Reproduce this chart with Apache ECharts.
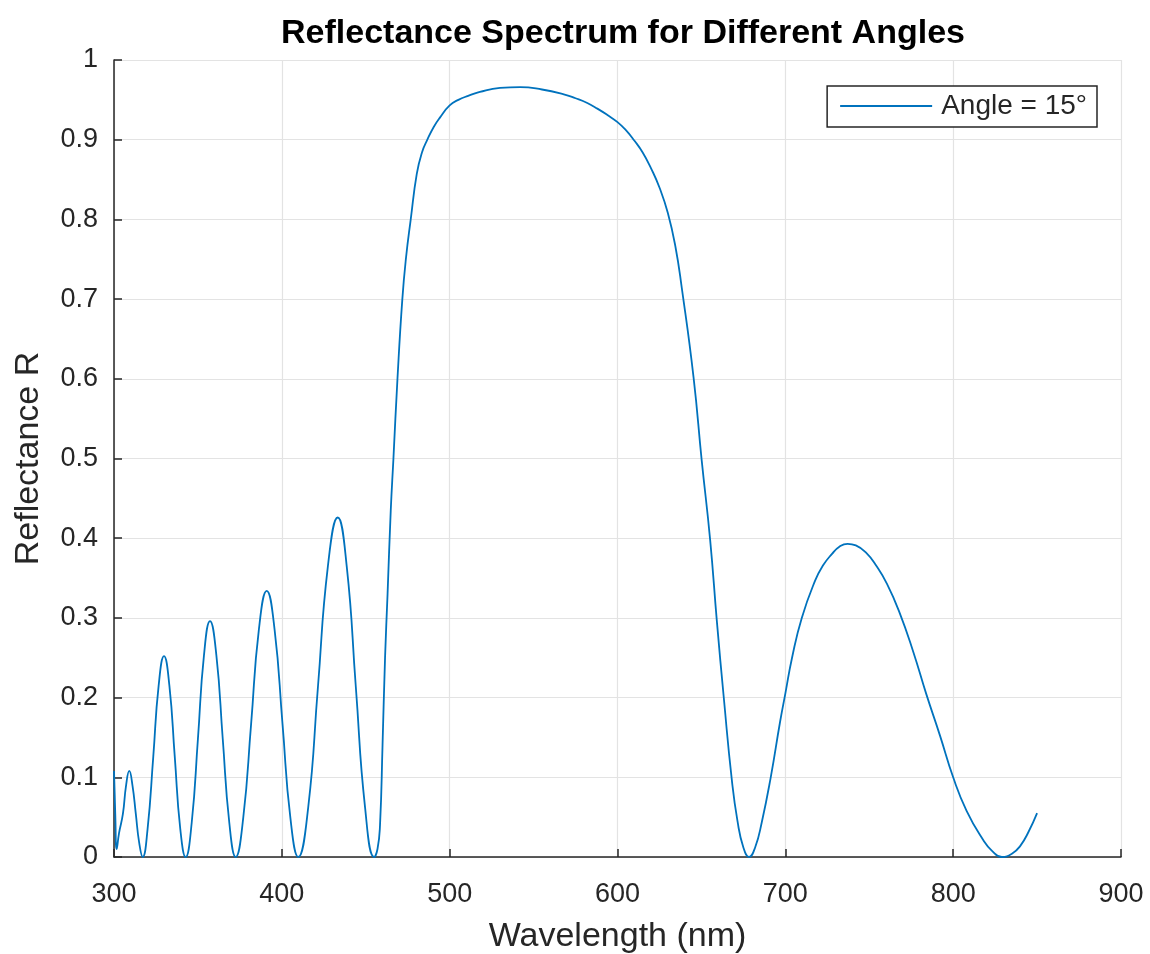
<!DOCTYPE html>
<html>
<head>
<meta charset="utf-8">
<title>Reflectance Spectrum for Different Angles</title>
<script src="https://cdn.jsdelivr.net/npm/echarts@6/dist/echarts.min.js"></script>
<style>
  html, body { margin: 0; padding: 0; background: #ffffff; }
  #chart { width: 1150px; height: 954px; }
</style>
</head>
<body>
<div id="chart"></div>
<script>
// Wavelength samples (nm)
const wavelength = [
  300, 300.8, 301.6, 303, 305.3, 307.2, 309.1, 311, 313, 315, 317.1,
  320, 323.4, 326.6, 329.8, 333, 336.2, 339.5, 342.7,
  346.3, 350, 353.6, 357.2, 361, 364.8, 368.7, 372.5,
  377, 381.7, 386.3, 391, 395.7, 400.4, 405.1, 409.8,
  415.7, 421.5, 427.4, 433.3, 438.7, 444.1, 449.6, 455,
  457, 458.5, 460, 461.5, 463, 464.9, 466.5, 468.9, 471.8, 474, 476.8, 480.4,
  483.5, 486.7, 490.5, 494.3, 500, 505.2, 511, 518, 530, 542, 555, 568, 575, 582, 588, 594, 600,
  605, 610, 615, 620, 625, 630, 634.5, 638.3, 645.3, 650.2, 655.2, 659.2, 663.5,
  668.1, 671.5, 675, 678.4,
  682, 686, 691.3, 696.9, 700, 704, 709.8, 717.8, 722.5, 727.7, 732, 737.1, 742, 748.5, 754,
  760.5, 768, 776.3, 783.9, 792.2, 800, 808, 818, 823, 829, 835, 840, 845, 850
];

// Reflectance at 15° incidence
const reflectance15 = [
  0.108, 0.05, 0.01, 0.03, 0.054, 0.09, 0.108, 0.09, 0.054, 0.018, 0,
  0.035, 0.126, 0.215, 0.252, 0.215, 0.126, 0.035, 0,
  0.043, 0.148, 0.253, 0.296, 0.253, 0.148, 0.043, 0,
  0.049, 0.167, 0.285, 0.334, 0.285, 0.167, 0.049, 0,
  0.062, 0.213, 0.364, 0.426, 0.364, 0.213, 0.062, 0,
  0.01, 0.04, 0.14, 0.25, 0.33, 0.435, 0.5, 0.6, 0.7, 0.752, 0.8, 0.857,
  0.884, 0.9, 0.916, 0.928, 0.943, 0.95, 0.955, 0.96, 0.965, 0.966, 0.963, 0.957, 0.952, 0.946, 0.939, 0.931, 0.922,
  0.912, 0.899, 0.884, 0.864, 0.84, 0.808, 0.766, 0.714, 0.602, 0.497, 0.398, 0.296, 0.196,
  0.097, 0.045, 0.012, 0,
  0.012, 0.044, 0.10, 0.17, 0.205, 0.25, 0.30, 0.347, 0.366, 0.38, 0.389, 0.393, 0.391, 0.381, 0.366,
  0.343, 0.307, 0.257, 0.205, 0.152, 0.10, 0.058, 0.021, 0.008, 0, 0.004, 0.014, 0.032, 0.055
];

const xTicks = [300, 400, 500, 600, 700, 800, 900];
const yTicks = [0, 0.1, 0.2, 0.3, 0.4, 0.5, 0.6, 0.7, 0.8, 0.9, 1];

const seriesName = 'Angle = 15°';

const points = wavelength.map((w, i) => [w, reflectance15[i]]);

const FONT = '"Liberation Sans", Arial, Helvetica, sans-serif';
const AXIS_DARK = '#262626';
const GRID_LIGHT = '#e3e3e3';
const LINE_BLUE = '#0072BD';

const chart = echarts.init(document.getElementById('chart'), null, { renderer: 'canvas' });

chart.setOption({
  backgroundColor: '#ffffff',
  animation: false,
  title: {
    text: 'Reflectance Spectrum for Different Angles',
    left: 618,
    textAlign: 'center',
    top: 12,
    textStyle: {
      fontFamily: FONT,
      fontWeight: 'bold',
      fontSize: 34,
      color: '#000000'
    }
  },
  legend: {
    data: [{ name: seriesName, icon: 'rect' }],
    right: 53,
    top: 86,
    orient: 'vertical',
    backgroundColor: '#ffffff',
    borderColor: '#262626',
    borderWidth: 1.5,
    borderRadius: 0,
    padding: [6, 10, 7, 13],
    itemWidth: 92,
    itemHeight: 2,
    itemGap: 0,
    itemStyle: { color: LINE_BLUE },
    textStyle: {
      fontFamily: FONT,
      fontSize: 28,
      color: '#262626',
      padding: [0, 0, 0, 4]
    }
  },
  grid: {
    left: 114,
    right: 29,
    top: 60,
    bottom: 97,
    containLabel: false,
    outerBoundsMode: 'none'
  },
  xAxis: {
    type: 'value',
    min: xTicks[0],
    max: xTicks[xTicks.length - 1],
    interval: 100,
    name: 'Wavelength (nm)',
    nameLocation: 'middle',
    nameGap: 63,
    nameTextStyle: {
      fontFamily: FONT,
      fontSize: 34,
      color: '#262626'
    },
    axisLine: { show: true, onZero: false, lineStyle: { color: AXIS_DARK, width: 1.5 } },
    axisTick: { show: true, inside: true, length: 8, lineStyle: { color: AXIS_DARK, width: 1.5 } },
    axisLabel: {
      fontFamily: FONT,
      fontSize: 27,
      color: '#262626',
      margin: 24,
      formatter: v => String(v)
    },
    splitLine: { show: true, lineStyle: { color: GRID_LIGHT, width: 1.2 } }
  },
  yAxis: {
    type: 'value',
    min: yTicks[0],
    max: yTicks[yTicks.length - 1],
    interval: 0.1,
    name: 'Reflectance R',
    nameLocation: 'middle',
    nameGap: 68,
    nameRotate: 90,
    nameTextStyle: {
      fontFamily: FONT,
      fontSize: 34,
      color: '#262626'
    },
    axisLine: { show: true, onZero: false, lineStyle: { color: AXIS_DARK, width: 1.5 } },
    axisTick: { show: true, inside: true, length: 8, lineStyle: { color: AXIS_DARK, width: 1.5 } },
    axisLabel: {
      fontFamily: FONT,
      fontSize: 27,
      color: '#262626',
      margin: 16,
      formatter: v => String(Math.round(v * 10) / 10)
    },
    splitLine: { show: true, lineStyle: { color: GRID_LIGHT, width: 1.2 } }
  },
  series: [{
    name: seriesName,
    type: 'line',
    data: points,
    symbol: 'none',
    smooth: 0.5,
    clip: true,
    lineStyle: { color: LINE_BLUE, width: 1.8 },
    itemStyle: { color: LINE_BLUE }
  }]
});
</script>
</body>
</html>
